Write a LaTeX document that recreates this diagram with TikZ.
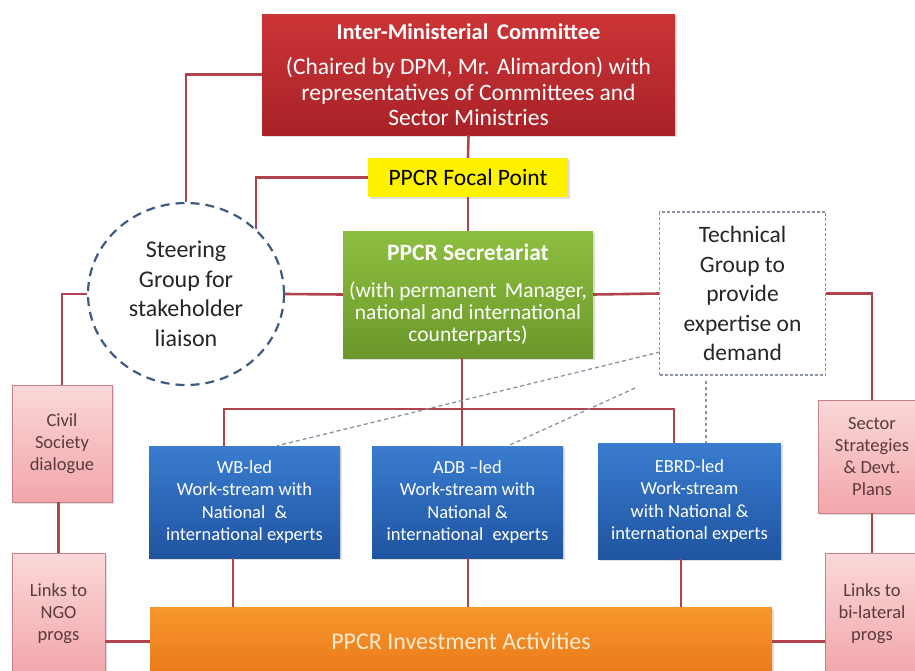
\documentclass[tikz,border=0pt]{standalone}
\usepackage{fontspec}
\setmainfont{Carlito}
\usetikzlibrary{shapes.geometric,shadows,calc}
\definecolor{linered}{HTML}{B0434E}
\definecolor{redtop}{HTML}{CC3437}
\definecolor{redbot}{HTML}{A82227}
\definecolor{greentop}{HTML}{8DBF40}
\definecolor{greenbot}{HTML}{6B982A}
\definecolor{bluetop}{HTML}{3A7CD0}
\definecolor{bluebot}{HTML}{1F54A0}
\definecolor{pinktop}{HTML}{FBD8D8}
\definecolor{pinkbot}{HTML}{F2A6AB}
\definecolor{pinkline}{HTML}{C9808A}
\definecolor{pinktext}{HTML}{5A3B3D}
\definecolor{orangetop}{HTML}{F8982C}
\definecolor{orangebot}{HTML}{E9781A}
\definecolor{orangetext}{HTML}{FCEBD0}
\definecolor{circline}{HTML}{3E5B82}
\definecolor{techline}{HTML}{8A93A3}
\begin{document}
\begin{tikzpicture}[x=1pt,y=-1pt,
  box/.style={rectangle, inner sep=0pt, align=center},
  shad/.style={drop shadow={opacity=0.25, shadow xshift=2pt, shadow yshift=-2pt}},
  redbox/.style={box, shad, top color=redtop, bottom color=redbot, text=white,
     font=\fontsize{23.5}{25.5}\selectfont},
  greenbox/.style={box, shad, top color=greentop, bottom color=greenbot, text=white,
     font=\fontsize{21.5}{22}\selectfont},
  bluebox/.style={box, shad, top color=bluetop, bottom color=bluebot, text=white,
     font=\fontsize{18.5}{22.5}\selectfont},
  pinkbox/.style={box, shad, top color=pinktop, bottom color=pinkbot, draw=pinkline,
     line width=0.8pt, text=pinktext, font=\fontsize{18.5}{22}\selectfont},
  conn/.style={draw=linered, line width=2.6pt},
  techdash/.style={draw=techline, line width=1.3pt, dash pattern=on 4pt off 3pt}]
\clip (0,0) rectangle (915,670);
\fill[white] (0,0) rectangle (915,670);

% nodes
\node[redbox, minimum width=413pt, minimum height=121pt] (imc) at (468.5,74.5)
  {\textbf{\fontsize{22.5}{25}\selectfont Inter-Ministerial\, Committee}\\[10pt](Chaired by DPM, Mr. Alimardon) with\\representatives of Committees and\\Sector Ministries};
\node[box, shad, fill=yellow, minimum width=200pt, minimum height=39pt,
  font=\fontsize{23.5}{26}\selectfont] (focal) at (468,177.5) {PPCR Focal Point};
\node[greenbox, minimum width=250pt, minimum height=127pt] (sec) at (468,294.5)
  {\textbf{\fontsize{23.5}{24}\selectfont PPCR Secretariat}\\[15pt](with permanent\, Manager,\\national and international\\counterparts)};
\node[ellipse, draw=circline, line width=2.2pt, dash pattern=on 9pt off 6pt,
  minimum width=196pt, minimum height=182pt, inner sep=0pt, align=center,
  font=\fontsize{24}{29.5}\selectfont, text=black!85] (circ) at (186,294)
  {Steering\\Group for\\stakeholder\\liaison};
\node[box, techdash, dash pattern=on 3pt off 2pt, minimum width=166pt, minimum height=163pt,
  font=\fontsize{23.5}{29.5}\selectfont, text=black!85] (tech) at (742.5,293.5)
  {Technical\\Group to\\provide\\expertise on\\demand};
\node[bluebox, minimum width=191pt, minimum height=112pt] (wb) at (244.5,502)
  {WB-led\\Work-stream with\\National\enspace\&\\international experts};
\node[bluebox, minimum width=191pt, minimum height=112pt] (adb) at (467.5,502)
  {ADB --led\\Work-stream with\\National \&\\international\enspace experts};
\node[bluebox, minimum width=183pt, minimum height=116pt] (ebrd) at (689.5,501)
  {EBRD-led\\Work-stream\\with National \&\\international experts};
\node[pinkbox, minimum width=100pt, minimum height=117pt] (civil) at (62,443.5)
  {Civil\\Society\\dialogue};
\node[pinkbox, minimum width=93pt, minimum height=122pt] (ngo) at (58.5,614)
  {Links to\\NGO\\progs};
\node[pinkbox, minimum width=108pt, minimum height=113pt] (sector) at (872,456.5)
  {Sector\\Strategies\\\& Devt.\\Plans};
\node[pinkbox, minimum width=94pt, minimum height=122pt] (bilat) at (872,614)
  {Links to\\bi-lateral\\progs};
\node[box, shad, top color=orangetop, bottom color=orangebot, text=orangetext,
  minimum width=622pt, minimum height=69pt, font=\fontsize{24}{26}\selectfont]
  (inv) at (461,641.5) {PPCR Investment Activities};

% helper coordinates
\coordinate (bl) at (224,409);
\coordinate (br) at (674,409);
\coordinate (sx) at (462,0);
\coordinate (wbx) at (233,0);
\coordinate (adbx) at (468,0);
\coordinate (ebx) at (681,0);
\coordinate (t1) at (660,352);
\coordinate (w1) at (277,0);
\coordinate (t2) at (635,388);
\coordinate (a2) at (508,0);
\coordinate (t3) at (706,381);

% connectors
\draw[conn] (imc.west) -| (circ.north);
\draw[conn] (focal.west) -| (circ.43);
\draw[conn] (imc.south) -- (focal.north);
\draw[conn] (focal.south) -- (sec.north);
\draw[conn] (circ.east) -- (sec.west);
\draw[conn] (circ.west) -| (civil.north);
\draw[conn] (sec.east) -- (tech.west);
\draw[conn] (tech.east) -| (sector.north);
\draw[conn] (sec.south -| sx) -- (adb.north -| sx);
\draw[conn] (wb.north -| bl) -- (bl) -- (br) -- (ebrd.north -| br);
\draw[conn] (wb.south -| wbx) -- (inv.north -| wbx);
\draw[conn] (adb.south -| adbx) -- (inv.north -| adbx);
\draw[conn] (ebrd.south -| ebx) -- (inv.north -| ebx);
\draw[conn] (civil.south -| ngo.north) -- (ngo.north);
\draw[conn] (sector.south) -- (bilat.north);
\draw[conn] (inv.west) -- (inv.west -| ngo.east);
\draw[conn] (inv.east) -- (inv.east -| bilat.west);

% dashed technical links
\draw[techdash] (t1) -- (wb.north -| w1);
\draw[techdash] (t2) -- (adb.north -| a2);
\draw[techdash, dash pattern=on 3pt off 3pt] (t3) -- (ebrd.north -| t3);
\end{tikzpicture}
\end{document}
